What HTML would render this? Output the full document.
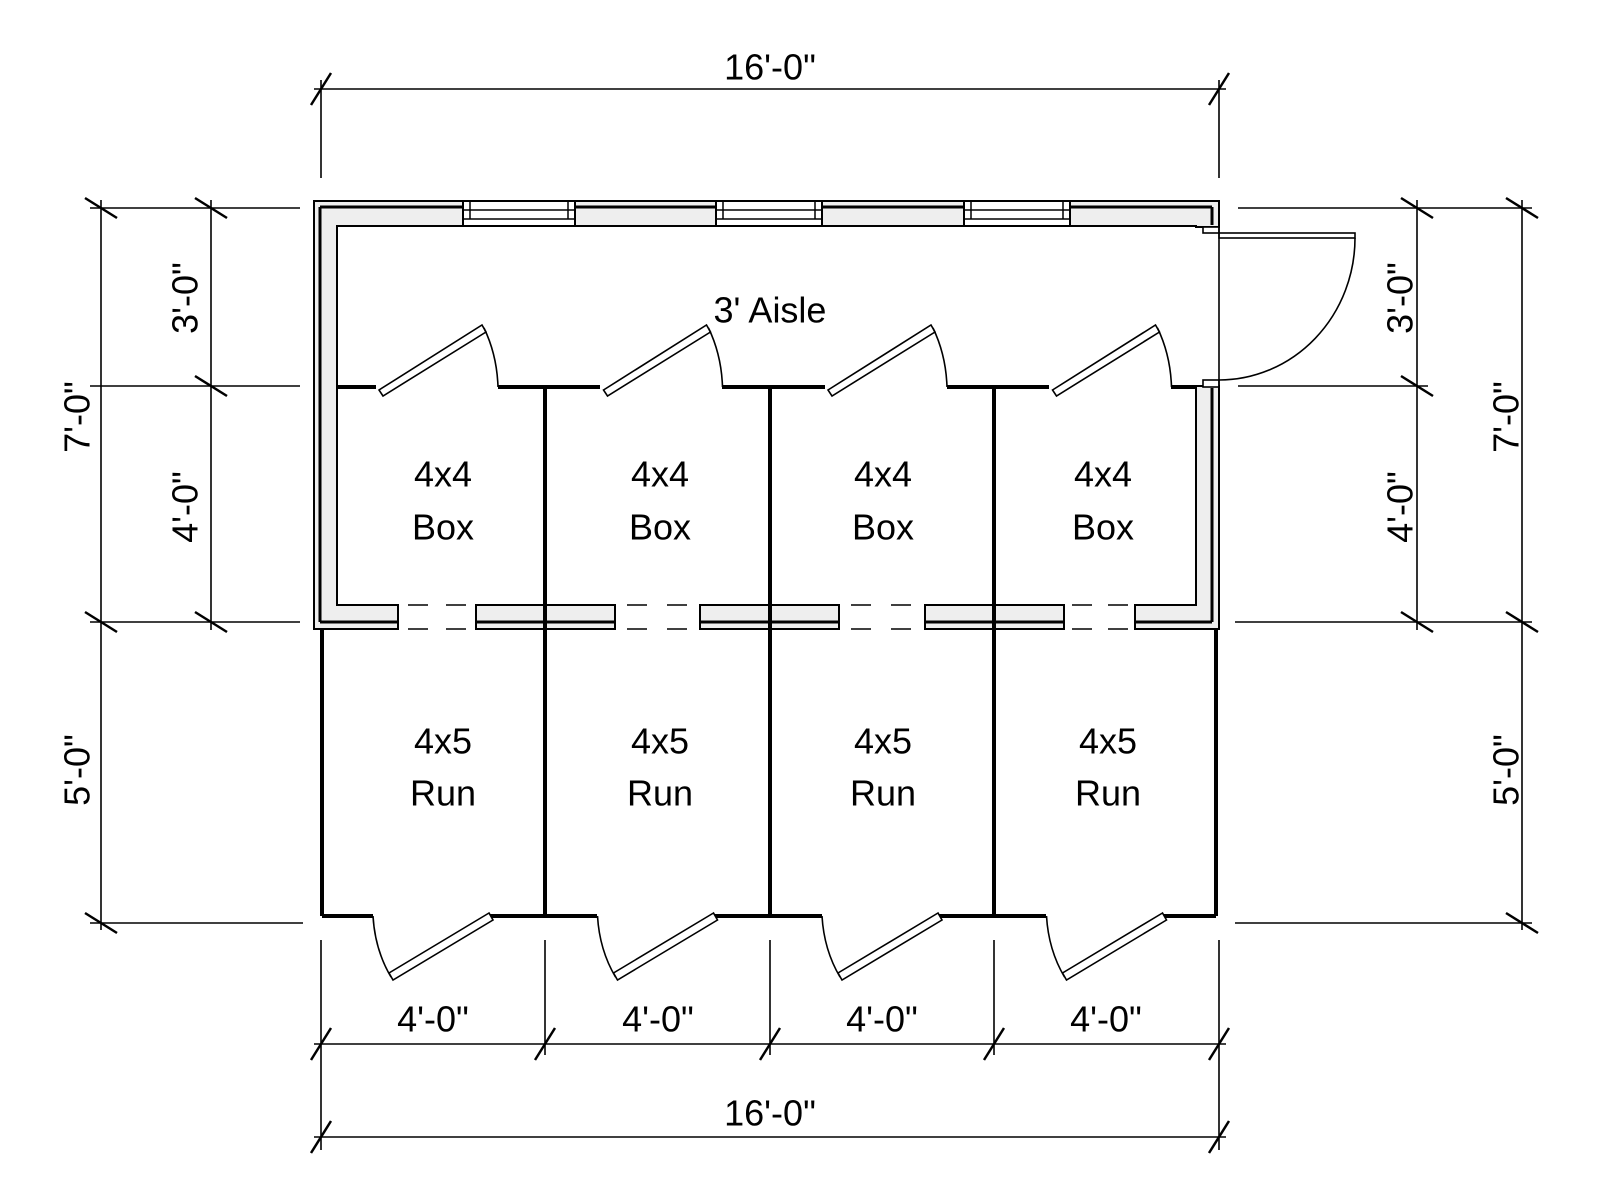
<!DOCTYPE html>
<html><head><meta charset="utf-8"><style>
html,body{margin:0;padding:0;background:#fff}
svg{display:block}
text{font-family:"Liberation Sans",sans-serif;font-size:36px;fill:#000;text-anchor:middle;dominant-baseline:central}
</style></head><body>
<svg width="1600" height="1200" viewBox="0 0 1600 1200" xmlns="http://www.w3.org/2000/svg">
<defs>
<g id="tk"><line x1="-10" y1="16" x2="10" y2="-16" stroke="#000" stroke-width="2.5"/></g>
<g id="tkv"><line x1="-16" y1="-10" x2="16" y2="10" stroke="#000" stroke-width="2.5"/></g>
</defs>
<g fill="none" stroke="#000" stroke-width="1.6">
<line x1="314" y1="89" x2="1226" y2="89"/>
<line x1="321" y1="80" x2="321" y2="178"/>
<line x1="1219" y1="80" x2="1219" y2="178"/>
<line x1="314" y1="1044" x2="1226" y2="1044"/>
<line x1="314" y1="1137" x2="1226" y2="1137"/>
<line x1="321" y1="940" x2="321" y2="1150"/>
<line x1="545" y1="940" x2="545" y2="1055"/>
<line x1="770" y1="940" x2="770" y2="1055"/>
<line x1="994" y1="940" x2="994" y2="1055"/>
<line x1="1219" y1="940" x2="1219" y2="1150"/>
<line x1="101" y1="200" x2="101" y2="930"/>
<line x1="211" y1="200" x2="211" y2="630"/>
<line x1="90" y1="208" x2="300" y2="208"/>
<line x1="90" y1="386" x2="300" y2="386"/>
<line x1="90" y1="622" x2="300" y2="622"/>
<line x1="90" y1="923" x2="303" y2="923"/>
<line x1="1417" y1="200" x2="1417" y2="630"/>
<line x1="1522" y1="200" x2="1522" y2="930"/>
<line x1="1238" y1="208" x2="1532" y2="208"/>
<line x1="1238" y1="386" x2="1428" y2="386"/>
<line x1="1235" y1="622" x2="1532" y2="622"/>
<line x1="1235" y1="923" x2="1532" y2="923"/>
</g>
<g>
<use href="#tk" x="321" y="89"/><use href="#tk" x="1219" y="89"/>
<use href="#tk" x="321" y="1044"/><use href="#tk" x="545" y="1044"/><use href="#tk" x="770" y="1044"/><use href="#tk" x="994" y="1044"/><use href="#tk" x="1219" y="1044"/>
<use href="#tk" x="321" y="1137"/><use href="#tk" x="1219" y="1137"/>
<use href="#tkv" x="101" y="208"/><use href="#tkv" x="101" y="622"/><use href="#tkv" x="101" y="923"/>
<use href="#tkv" x="211" y="208"/><use href="#tkv" x="211" y="386"/><use href="#tkv" x="211" y="622"/>
<use href="#tkv" x="1417" y="208"/><use href="#tkv" x="1417" y="386"/><use href="#tkv" x="1417" y="622"/>
<use href="#tkv" x="1522" y="208"/><use href="#tkv" x="1522" y="622"/><use href="#tkv" x="1522" y="923"/>
</g>
<path d="M314 201 H1219 V227 H1196 V226 H337 V605 H398 V629 H314 Z" fill="#eee" stroke="#000" stroke-width="2"/>
<path d="M1196 386 H1219 V629 H1135 V605 H1196 Z" fill="#eee" stroke="#000" stroke-width="2"/>
<line x1="320" y1="207" x2="1212" y2="207" stroke="#000" stroke-width="3"/>
<line x1="320" y1="207" x2="320" y2="622" stroke="#000" stroke-width="3"/>
<line x1="1212" y1="207" x2="1212" y2="225" stroke="#000" stroke-width="3"/>
<line x1="1212" y1="388" x2="1212" y2="622" stroke="#000" stroke-width="3"/>
<g fill="#fff" stroke="#000" stroke-width="2">
<rect x="463" y="201" width="112" height="25"/>
<rect x="716" y="201" width="106" height="25"/>
<rect x="964" y="201" width="106" height="25"/>
</g>
<g stroke="#000" stroke-width="1.5">
<line x1="470" y1="201" x2="470" y2="219"/><line x1="568" y1="201" x2="568" y2="219"/><line x1="463" y1="210" x2="575" y2="210"/><line x1="463" y1="219" x2="575" y2="219"/>
<line x1="723" y1="201" x2="723" y2="219"/><line x1="815" y1="201" x2="815" y2="219"/><line x1="716" y1="210" x2="822" y2="210"/><line x1="716" y1="219" x2="822" y2="219"/>
<line x1="971" y1="201" x2="971" y2="219"/><line x1="1063" y1="201" x2="1063" y2="219"/><line x1="964" y1="210" x2="1070" y2="210"/><line x1="964" y1="219" x2="1070" y2="219"/>
</g>
<g fill="#eee" stroke="#000" stroke-width="2">
<rect x="476" y="605" width="139" height="24"/>
<rect x="700" y="605" width="139" height="24"/>
<rect x="925" y="605" width="139" height="24"/>
</g>
<g stroke="#000" stroke-width="3">
<line x1="320" y1="622" x2="398" y2="622"/>
<line x1="476" y1="622" x2="615" y2="622"/>
<line x1="700" y1="622" x2="839" y2="622"/>
<line x1="925" y1="622" x2="1064" y2="622"/>
<line x1="1135" y1="622" x2="1212" y2="622"/>
</g>
<g stroke="#000" stroke-width="1.6">
<line x1="398" y1="605" x2="476" y2="605" stroke-dasharray="20 18" stroke-dashoffset="-10"/>
<line x1="398" y1="629" x2="476" y2="629" stroke-dasharray="20 18" stroke-dashoffset="-10"/>
<line x1="615" y1="605" x2="700" y2="605" stroke-dasharray="20 20" stroke-dashoffset="-12"/>
<line x1="615" y1="629" x2="700" y2="629" stroke-dasharray="20 20" stroke-dashoffset="-12"/>
<line x1="839" y1="605" x2="925" y2="605" stroke-dasharray="20 20" stroke-dashoffset="-12"/>
<line x1="839" y1="629" x2="925" y2="629" stroke-dasharray="20 20" stroke-dashoffset="-12"/>
<line x1="1064" y1="605" x2="1135" y2="605" stroke-dasharray="20 16" stroke-dashoffset="-8"/>
<line x1="1064" y1="629" x2="1135" y2="629" stroke-dasharray="20 16" stroke-dashoffset="-8"/>
</g>
<g stroke="#000" stroke-width="4">
<line x1="545" y1="386" x2="545" y2="916"/>
<line x1="770" y1="386" x2="770" y2="916"/>
<line x1="994" y1="386" x2="994" y2="916"/>
<line x1="322" y1="629" x2="322" y2="916"/>
<line x1="1216" y1="629" x2="1216" y2="916"/>
</g>
<g stroke="#000" stroke-width="4" fill="none">
<path d="M337 387 H376 M498 387 H600 M722 387 H825 M947 387 H1049 M1171 387 H1196"/>
<path d="M322 916 H373 M489 916 H597 M713 916 H822 M938 916 H1046 M1162 916 H1216"/>
</g>
<g fill="#fff" stroke="#000" stroke-width="1.6">
<g id="td"><polygon points="379,390 482,325 486,332 383,396"/><path d="M484 328 Q497 355 498 387" fill="none"/></g>
<use href="#td" x="224.5"/><use href="#td" x="449"/><use href="#td" x="673.5"/>
<g id="bd"><polygon points="489,913 389,973 393,980 493,920"/><path d="M373 916 Q375 950 391 977" fill="none"/></g>
<use href="#bd" x="224.5"/><use href="#bd" x="449"/><use href="#bd" x="673.5"/>
<rect x="1203" y="227" width="16" height="6"/>
<rect x="1203" y="380" width="16" height="7"/>
<rect x="1219" y="233" width="136" height="5"/>
<path d="M1355 238 A136 142 0 0 1 1219 380" fill="none"/>
<line x1="1219" y1="227" x2="1219" y2="387"/>
</g>
<text x="770" y="67">16'-0"</text>
<text x="770" y="1113">16'-0"</text>
<text x="433" y="1019">4'-0"</text>
<text x="658" y="1019">4'-0"</text>
<text x="882" y="1019">4'-0"</text>
<text x="1106" y="1019">4'-0"</text>
<text x="770" y="310">3' Aisle</text>
<g>
<text x="443" y="474">4x4</text><text x="443" y="527">Box</text>
<text x="660" y="474">4x4</text><text x="660" y="527">Box</text>
<text x="883" y="474">4x4</text><text x="883" y="527">Box</text>
<text x="1103" y="474">4x4</text><text x="1103" y="527">Box</text>
<text x="443" y="741">4x5</text><text x="443" y="793">Run</text>
<text x="660" y="741">4x5</text><text x="660" y="793">Run</text>
<text x="883" y="741">4x5</text><text x="883" y="793">Run</text>
<text x="1108" y="741">4x5</text><text x="1108" y="793">Run</text>
</g>
<text transform="translate(77 417) rotate(-90)">7'-0"</text>
<text transform="translate(185 298) rotate(-90)">3'-0"</text>
<text transform="translate(185 507) rotate(-90)">4'-0"</text>
<text transform="translate(77 770) rotate(-90)">5'-0"</text>
<text transform="translate(1400 298) rotate(-90)">3'-0"</text>
<text transform="translate(1400 507) rotate(-90)">4'-0"</text>
<text transform="translate(1506 417) rotate(-90)">7'-0"</text>
<text transform="translate(1506 770) rotate(-90)">5'-0"</text>
</svg>
</body></html>
